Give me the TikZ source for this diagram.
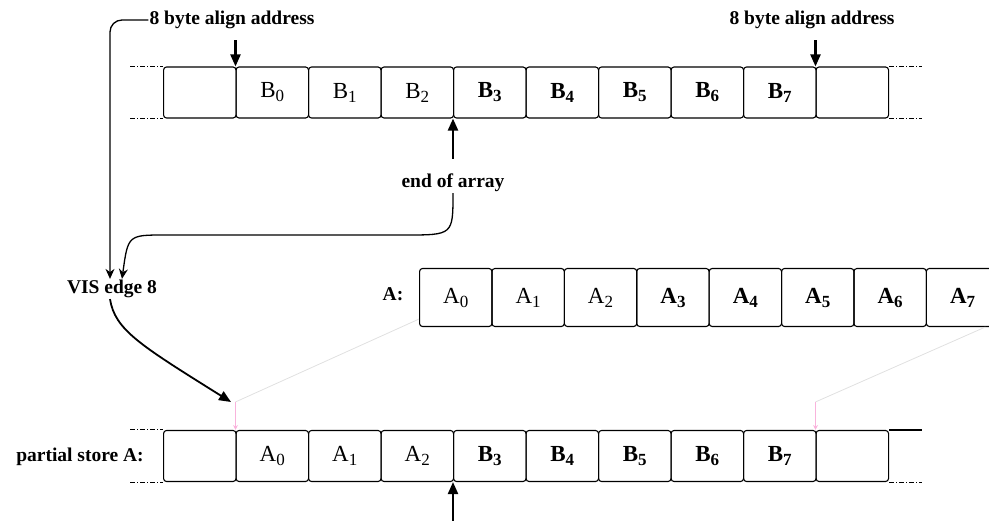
\documentclass[tikz,border=0pt]{standalone}
\usepackage{fontspec}
\setmainfont{Liberation Serif}
\usetikzlibrary{arrows.meta}

% byte label with lowered index, bold from index 3 on
\newcommand{\byte}[2]{{\ifnum#2>2 \bfseries\fi #1\raisebox{-4pt}{\fontsize{17}{17}\selectfont #2}}}

\tikzset{
  slot/.style={draw, rounded corners=3pt, line width=1.1pt, anchor=west, inner sep=0pt,
    minimum width=72.5pt, minimum height=51pt, font=\fontsize{23}{23}\selectfont},
  tag/.style={font=\bfseries\fontsize{19.5}{20}\selectfont, inner sep=1pt},
  ext/.style={line width=1pt, dash pattern=on 5pt off 2pt on 1pt off 2pt},
  ptr/.style={line width=2.2pt, -{Triangle[length=12pt,width=10pt]}},
  link/.style={line width=1.3pt, -{Stealth[length=10pt,width=9pt]}},
  faint/.style={line width=.8pt, black!12},
  hint/.style={line width=.8pt, magenta!30, -{Stealth[length=5pt,width=5pt]}}
}

\begin{document}
\begin{tikzpicture}[x=1pt, y=-1pt]
  \useasboundingbox (0,0) rectangle (989,520);

  % memory row holding B
  \foreach \i in {0,...,9} {
    \pgfmathtruncatemacro\k{\i-1}
    \node[slot] (b\i) at (163+72.5*\i, 92.5) {\ifnum\i>0 \ifnum\i<9 \byte{B}{\k}\fi\fi};
  }
  \draw[ext] ([xshift=-33pt]b0.north west) -- (b0.north west);
  \draw[ext] ([xshift=-33pt]b0.south west) -- (b0.south west);
  \draw[ext] (b9.north east) -- ++(33,0);
  \draw[ext] (b9.south east) -- ++(33,0);

  % register A
  \node[tag] (alab) at (393, 294) {A:};
  \foreach \i in {0,...,7}
    \node[slot, minimum width=72.4pt, minimum height=58pt] (a\i) at (419+72.4*\i, 297.5) {\byte{A}{\i}};

  % memory row after the partial store
  \foreach \i in {0,...,9} {
    \pgfmathtruncatemacro\k{\i-1}
    \node[slot] (s\i) at (163+72.5*\i, 456) {\ifnum\i>0 \ifnum\i<4 \byte{A}{\k}\else\ifnum\i<9 \byte{B}{\k}\fi\fi\fi};
  }
  \node[tag] (plab) at (80, 457) {partial store A:};
  \draw[ext] ([xshift=-33pt]s0.north west) -- (s0.north west);
  \draw[ext] ([xshift=-33pt]s0.south west) -- (s0.south west);
  \draw[line width=1.1pt] (s9.north east) -- ++(33,0);
  \draw[ext] (s9.south east) -- ++(33,0);

  % labels and pointers
  \node[tag] (algnL) at (232, 20) {8 byte align address};
  \node[tag] (algnR) at (812, 20) {8 byte align address};
  \node[tag] (eoa) at (453, 183) {end of array};
  \node[tag] (vis) at (112, 289) {VIS edge 8};
  \coordinate (vtip) at (231, 402);

  \draw[ptr] ([yshift=26pt]b1.north west) -- (b1.north west);
  \draw[ptr] ([yshift=26pt]b9.north west) -- (b9.north west);
  \draw[ptr] ([yshift=14pt]eoa.north) -- (b4.south west);
  \draw[ptr] ([yshift=-42pt]s4.south west) -- (s4.south west);

  \draw[link, rounded corners=12pt] (algnL.west) -| ([xshift=-2pt]vis.north);
  \draw[link] (eoa.south) .. controls (453,235) .. (405,235) -- (165,235)
    .. controls (128,235) .. ([xshift=10pt]vis.north);
  \draw[ptr, line width=1.8pt] ([xshift=-2pt]vis.south) .. controls (115,330) and (140,345) .. (vtip);

  % where A lands in the store
  \draw[faint] ([yshift=8pt]a0.south west) -- ([yshift=28pt]s1.north west);
  \draw[faint] ([xshift=-14pt]a7.south east) -- ([yshift=28pt]s9.north west);
  \draw[hint] ([yshift=28pt]s1.north west) -- (s1.north west);
  \draw[hint] ([yshift=28pt]s9.north west) -- (s9.north west);
\end{tikzpicture}
\end{document}
